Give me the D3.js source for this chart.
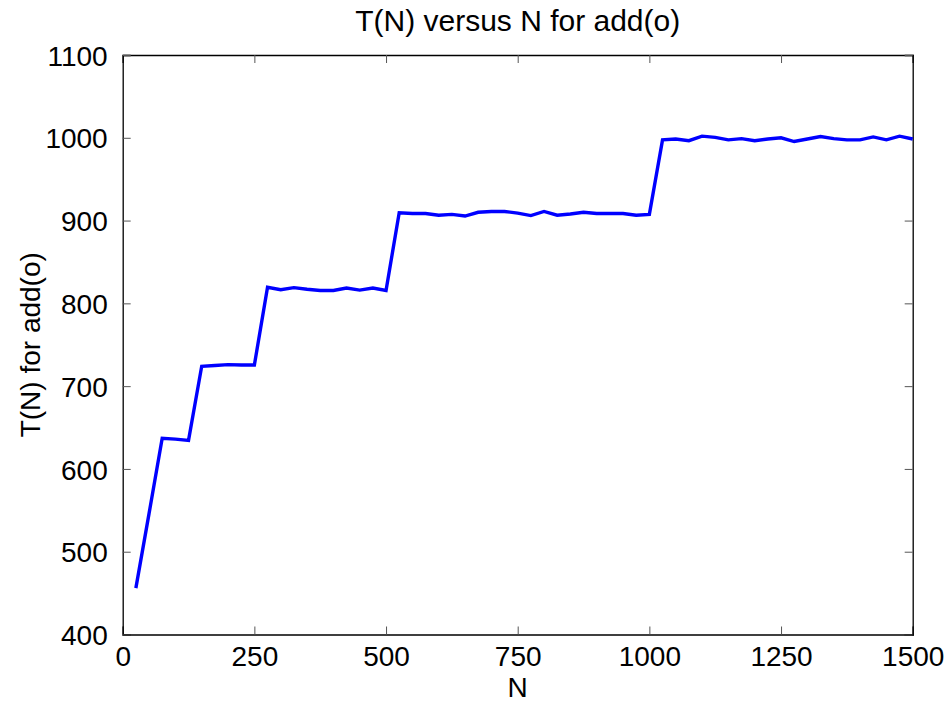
<!DOCTYPE html>
<html>
<head>
<meta charset="utf-8">
<script src="https://cdn.jsdelivr.net/npm/d3@7"></script>
<style>
    body { margin: 0; background: #fff; }
    svg text { font-family: "Liberation Sans", Arial, Helvetica, sans-serif; fill: #000; }
</style>
</head>
<body>
<svg id="chart" width="949" height="704"></svg>
<script>
    // values
    var nValues = [25, 50, 75, 100, 125, 150, 175, 200, 225, 250,
        275, 300, 325, 350, 375, 400, 425, 450, 475, 500,
        525, 550, 575, 600, 625, 650, 675, 700, 725, 750,
        775, 800, 825, 850, 875, 900, 925, 950, 975, 1000,
        1025, 1050, 1075, 1100, 1125, 1150, 1175, 1200, 1225, 1250,
        1275, 1300, 1325, 1350, 1375, 1400, 1425, 1450, 1475, 1500];
    var tValues = [456, 546, 637, 636, 634.5, 724, 725, 726, 725.5, 725.5,
        819.5, 816.5, 819, 817, 815.5, 815.5, 818.5, 816, 818.5, 815.5,
        909.5, 908.5, 908.5, 906.5, 907.5, 905.5, 910, 911, 911, 909,
        906, 911, 906.5, 908, 910, 908.5, 908.5, 908.5, 906.5, 907.5,
        997.5, 998.5, 996.5, 1002, 1000.5, 997.5, 999, 996.5, 998.5, 1000,
        995.5, 998.5, 1001.5, 999, 997.5, 997.5, 1001, 997.5, 1002, 998.5];
    var xTicks = [0, 250, 500, 750, 1000, 1250, 1500];
    var yTicks = [400, 500, 600, 700, 800, 900, 1000, 1100];

    var titleText = "T(N) versus N for add(o)",
        xLabel = "N",
        yLabel = "T(N) for add(o)";

    var svg = d3.select("#chart"),
        margin = {top: 55, right: 36.3, bottom: 69.5, left: 122.7},
        width = 949 - margin.left - margin.right,
        height = 704 - margin.top - margin.bottom;

    var x = d3.scaleLinear().domain([0, 1500]).range([0, width]),
        y = d3.scaleLinear().domain([400, 1100]).range([height, 0]);

    var g = svg.append("g")
        .attr("transform", "translate(" + margin.left + "," + margin.top + ")");

    var tickLen = 8,
        fmt = d3.format("d");

    // bottom + top axes (ticks inward, like matlab)
    var xAxis = g.append("g")
        .attr("transform", "translate(0," + height + ")")
        .call(d3.axisBottom(x).tickValues(xTicks).tickFormat(fmt).tickSize(-tickLen).tickPadding(tickLen + 4));
    g.append("g")
        .call(d3.axisTop(x).tickValues(xTicks).tickSize(-tickLen).tickFormat(""));

    var yAxis = g.append("g")
        .call(d3.axisLeft(y).tickValues(yTicks).tickFormat(fmt).tickSize(-tickLen).tickPadding(tickLen + 7));
    g.append("g")
        .attr("transform", "translate(" + width + ",0)")
        .call(d3.axisRight(y).tickValues(yTicks).tickSize(-tickLen).tickFormat(""));

    g.selectAll(".domain").attr("stroke", "#000").attr("stroke-width", 1.3);
    g.selectAll(".tick line").attr("stroke", "#555").attr("stroke-width", 1);
    g.selectAll(".tick text")
        .style("font-size", "28px")
        .attr("fill", "#000");
    xAxis.selectAll(".tick text").attr("dy", "0.71em");
    yAxis.selectAll(".tick text").attr("dy", "0.36em");

    var line = d3.line()
        .x(function(d, i) { return x(nValues[i]); })
        .y(function(d) { return y(d); });

    g.append("path")
        .datum(tValues)
        .attr("fill", "none")
        .attr("stroke", "#0000ff")
        .attr("stroke-width", 3.4)
        .attr("stroke-linejoin", "miter")
        .attr("d", line);

    svg.append("text")
        .attr("x", margin.left + width / 2)
        .attr("y", 31)
        .attr("text-anchor", "middle")
        .style("font-size", "30px")
        .text(titleText);

    svg.append("text")
        .attr("x", margin.left + width / 2)
        .attr("y", 697)
        .attr("text-anchor", "middle")
        .style("font-size", "28px")
        .text(xLabel);

    svg.append("text")
        .attr("transform", "translate(40," + (margin.top + height / 2) + ") rotate(-90)")
        .attr("text-anchor", "middle")
        .style("font-size", "28px")
        .text(yLabel);
</script>
</body>
</html>
